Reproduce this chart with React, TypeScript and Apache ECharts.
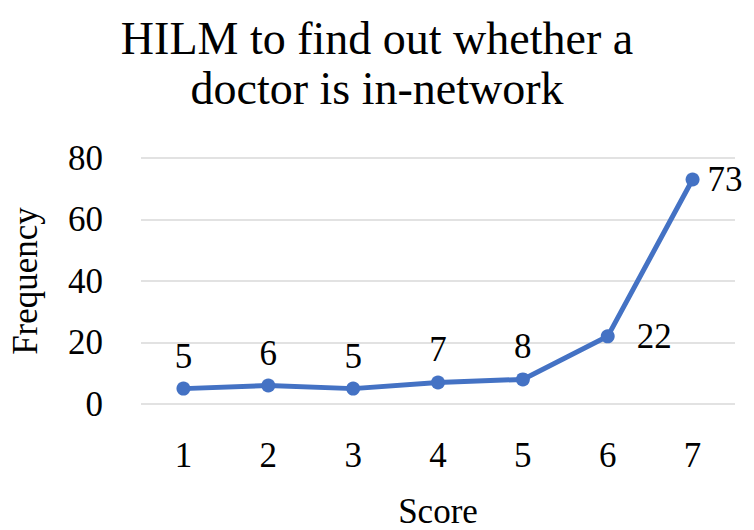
import React, { useEffect, useRef } from "react";
import * as echarts from "echarts";

const categories = ["1", "2", "3", "4", "5", "6", "7"];
const frequency = [5, 6, 5, 7, 8, 22, 73];
const titleText = "HILM to find out whether a\ndoctor is in-network";
const FONT = "Liberation Serif";

export default function App() {
  const ref = useRef<HTMLDivElement>(null);
  useEffect(() => {
    const chart = echarts.init(ref.current!, null, { renderer: "svg" });
    chart.setOption({
      animation: false,
      title: {
        text: titleText,
        left: "center",
        top: 8,
        textStyle: { fontFamily: FONT, fontSize: 46, fontWeight: "normal", color: "#000", lineHeight: 50 },
      },
      grid: { left: 140, right: 19, top: 158, bottom: 122 },
      xAxis: {
        type: "category",
        data: categories,
        name: "Score",
        nameLocation: "middle",
        nameGap: 90,
        nameTextStyle: { fontFamily: FONT, fontSize: 35, color: "#000" },
        axisLine: { show: false },
        axisTick: { show: false },
        axisLabel: { fontFamily: FONT, fontSize: 35, color: "#000", margin: 34 },
      },
      yAxis: {
        type: "value",
        min: 0,
        max: 80,
        interval: 20,
        name: "Frequency",
        nameLocation: "middle",
        nameGap: 98,
        nameTextStyle: { fontFamily: FONT, fontSize: 35, color: "#000" },
        axisLine: { show: false },
        axisTick: { show: false },
        axisLabel: { fontFamily: FONT, fontSize: 35, color: "#000", margin: 38 },
        splitLine: { lineStyle: { color: "#d9d9d9", width: 1.5 } },
      },
      series: [
        {
          type: "line",
          data: frequency.map((v, i) => ({
            value: v,
            label: i >= 5 ? { position: "right", distance: i === 5 ? 22 : 8 } : { position: "top" },
          })),
          color: "#4472C4",
          lineStyle: { width: 5, color: "#4472C4" },
          symbol: "circle",
          symbolSize: 14,
          itemStyle: { color: "#4472C4" },
          label: {
            show: true,
            fontFamily: FONT,
            fontSize: 35,
            color: "#000",
            distance: 8,
          },
        },
      ],
    });
    return () => chart.dispose();
  }, []);
  return <div ref={ref} style={{ width: 754, height: 530, marginLeft: -8, marginTop: -8 }} />;
}
